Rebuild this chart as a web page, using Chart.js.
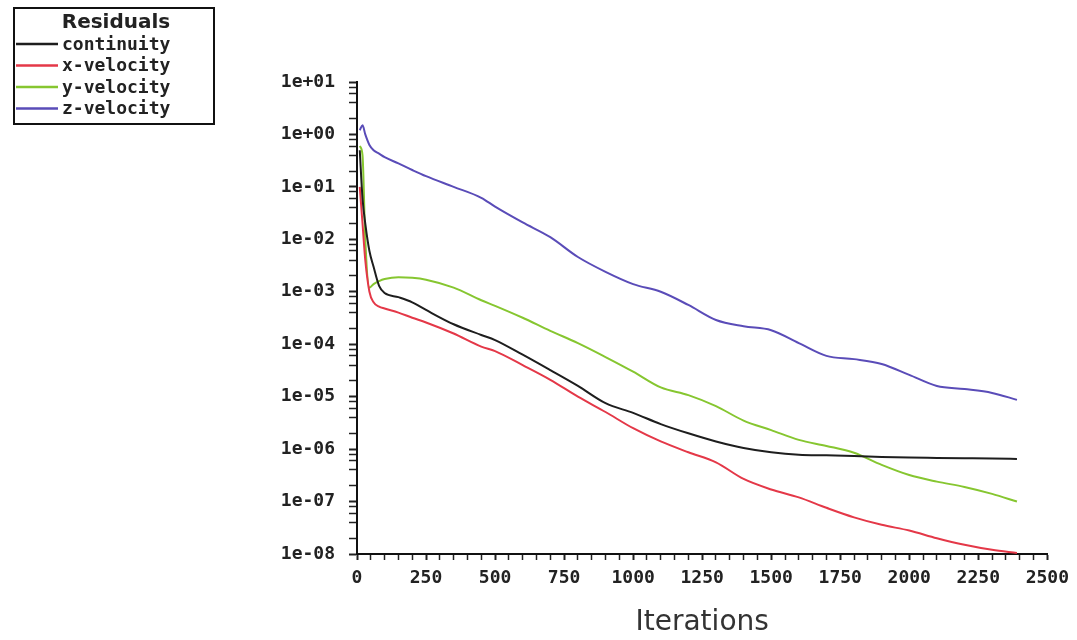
<!DOCTYPE html>
<html>
<head>
<meta charset="utf-8">
<script src="https://cdn.jsdelivr.net/npm/chart.js@4.4.1/dist/chart.umd.min.js"></script>
<style>
  html, body { margin: 0; padding: 0; background: #fff; }
  #wrap { width: 1077px; height: 640px; position: relative; }
</style>
</head>
<body>
<div id="wrap"><canvas id="residuals"></canvas></div>
<script>
var legend_title = 'Residuals';
var x_title = 'Iterations';

var iterations = [10, 20, 30, 45, 60, 80, 100, 150, 200, 250, 350, 450, 500, 600, 700, 800, 900, 1000,
  1100, 1200, 1300, 1400, 1500, 1600, 1700, 1800, 1900, 2000, 2100, 2200, 2300, 2390];

var continuity = [0.5, 0.06, 0.02, 6e-3, 3e-3, 1.3e-3, 9.5e-4, 7.9e-4, 6.3e-4, 4.5e-4, 2.4e-4, 1.5e-4, 1.2e-4,
  6.3e-5, 3.2e-5, 1.6e-5, 7.5e-6, 4.9e-6, 3e-6, 2e-6, 1.4e-6, 1.05e-6, 8.7e-7, 7.8e-7, 7.6e-7, 7.4e-7,
  7.1e-7, 6.9e-7, 6.8e-7, 6.7e-7, 6.6e-7, 6.5e-7];

var x_velocity = [0.1, 0.02, 4e-3, 1e-3, 6.3e-4, 5.2e-4, 4.8e-4, 4e-4, 3.2e-4, 2.6e-4, 1.6e-4, 9e-5, 7.4e-5,
  4e-5, 2.1e-5, 1e-5, 5.1e-6, 2.5e-6, 1.4e-6, 8.7e-7, 5.6e-7, 2.7e-7, 1.7e-7, 1.2e-7, 7.6e-8, 5e-8,
  3.6e-8, 2.8e-8, 2e-8, 1.5e-8, 1.2e-8, 1.05e-8];

var y_velocity = [0.6, 0.4, 0.01, 1.2e-3, 1.4e-3, 1.6e-3, 1.75e-3, 1.9e-3, 1.85e-3, 1.7e-3, 1.2e-3, 6.9e-4, 5.4e-4,
  3.2e-4, 1.8e-4, 1.05e-4, 5.7e-5, 3e-5, 1.5e-5, 1.07e-5, 6.6e-6, 3.5e-6, 2.3e-6, 1.5e-6, 1.15e-6, 8.5e-7,
  5e-7, 3.2e-7, 2.4e-7, 1.9e-7, 1.4e-7, 1e-7];

var z_velocity = [1.2, 1.5, 1.0, 0.63, 0.5, 0.43, 0.37, 0.28, 0.21, 0.16, 0.1, 0.062, 0.042,
  0.021, 0.011, 0.0046, 0.0024, 0.0014, 0.001, 5.6e-4, 2.9e-4, 2.2e-4, 1.85e-4, 1.05e-4, 6e-5, 5.2e-5,
  4.2e-5, 2.6e-5, 1.6e-5, 1.4e-5, 1.18e-5, 8.7e-6];

var series_names = ['continuity', 'x-velocity', 'y-velocity', 'z-velocity'];
var series_colors = ['#1e1e1e', '#e43848', '#86c630', '#5a4cb8'];
var minor_mults = [2, 4, 6, 8];

function to_points (values) {
  return iterations.map(function (it, i) { return { x: it, y: values[i] }; });
}

function exp_label (v) {
  var e = Math.round(Math.log10(v));
  if (Math.abs(v / Math.pow(10, e) - 1) > 1e-6) return '';
  return '1e' + (e < 0 ? '-' : '+') + String(Math.abs(e)).padStart(2, '0');
}

// boxed legend in the top left corner, drawn from the datasets
var residuals_box = {
  id: 'residuals_box',
  afterDraw: function (chart) {
    var ctx = chart.ctx;
    ctx.save();
    ctx.strokeStyle = '#111';
    ctx.lineWidth = 2;
    ctx.strokeRect(14, 8, 200, 116);
    ctx.fillStyle = '#222';
    ctx.font = 'bold 20px "DejaVu Sans"';
    ctx.textAlign = 'center';
    ctx.textBaseline = 'middle';
    ctx.fillText(legend_title, 116, 23);
    ctx.textAlign = 'left';
    ctx.font = 'bold 18px "DejaVu Sans Mono"';
    chart.data.datasets.forEach(function (ds, i) {
      var y = 44 + i * 21.5;
      ctx.strokeStyle = ds.borderColor;
      ctx.lineWidth = 2.5;
      ctx.beginPath();
      ctx.moveTo(16, y);
      ctx.lineTo(58, y);
      ctx.stroke();
      ctx.fillText(ds.label, 62, y + 1);
    });
    ctx.restore();
  }
};

var ctx = document.getElementById('residuals').getContext('2d');
var all_series = [continuity, x_velocity, y_velocity, z_velocity];

var chart = new Chart(ctx, {
  type: 'line',
  data: {
    datasets: all_series.map(function (vals, i) {
      return {
        label: series_names[i],
        data: to_points(vals),
        borderColor: series_colors[i],
        backgroundColor: series_colors[i],
        borderWidth: 2,
        pointRadius: 0,
        cubicInterpolationMode: 'monotone',
        fill: false
      };
    })
  },
  options: {
    responsive: true,
    maintainAspectRatio: false,
    animation: false,
    layout: { padding: { left: 0, top: 82, right: 26, bottom: 0 } },
    plugins: {
      legend: { display: false },
      tooltip: { enabled: false }
    },
    scales: {
      x: {
        type: 'linear',
        min: 0,
        max: 2500,
        afterFit: function (scale) { scale.height = 86; },
        afterBuildTicks: function (scale) {
          var t = [];
          for (var v = 0; v <= 2500; v += 50) t.push({ value: v });
          scale.ticks = t;
        },
        ticks: {
          autoSkip: false,
          maxRotation: 0,
          padding: 8,
          color: '#222',
          font: { family: '"DejaVu Sans Mono"', size: 18, weight: 'bold' },
          callback: function (v) { return v % 250 === 0 ? String(v) : ''; }
        },
        grid: {
          drawOnChartArea: false,
          tickLength: 6,
          tickColor: '#222',
          tickWidth: function (c) { return c.tick && c.tick.value % 250 === 0 ? 2 : 1.5; }
        },
        border: { color: '#111', width: 2 },
        title: {
          display: true,
          text: x_title,
          color: '#333',
          font: { family: '"DejaVu Sans"', size: 28 },
          padding: { top: 24, bottom: 0 }
        }
      },
      y: {
        type: 'logarithmic',
        min: 1e-8,
        max: 10,
        afterFit: function (scale) { scale.width = 357; },
        afterBuildTicks: function (scale) {
          var t = [];
          for (var e = -8; e <= 1; e++) {
            t.push({ value: Math.pow(10, e) });
            if (e === 1) break;
            minor_mults.forEach(function (m) { t.push({ value: m * Math.pow(10, e) }); });
          }
          scale.ticks = t;
        },
        ticks: {
          autoSkip: false,
          padding: 14,
          color: '#222',
          font: { family: '"DejaVu Sans Mono"', size: 18, weight: 'bold' },
          callback: function (v) { return exp_label(v); }
        },
        grid: {
          drawOnChartArea: false,
          tickLength: 8,
          tickColor: '#222',
          tickWidth: function (c) { return c.tick && exp_label(c.tick.value) !== '' ? 2 : 1.5; }
        },
        border: { color: '#111', width: 2 }
      }
    }
  },
  plugins: [residuals_box]
});
</script>
</body>
</html>
